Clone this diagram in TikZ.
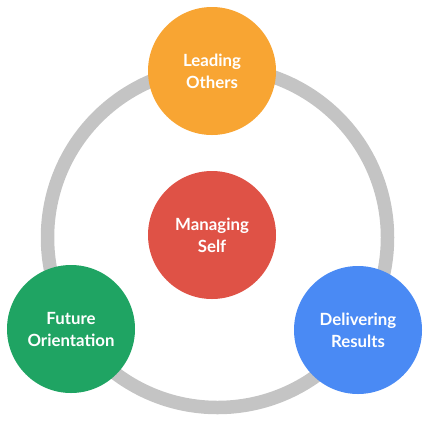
\documentclass[tikz,border=0pt]{standalone}
\usepackage{fontspec}
\setmainfont{Lato}
\definecolor{ringgray}{HTML}{C4C4C4}
\definecolor{leadorange}{HTML}{F8A533}
\definecolor{selfred}{HTML}{DF5246}
\definecolor{futuregreen}{HTML}{1FA463}
\definecolor{resultblue}{HTML}{4A8AF4}
\tikzset{
  area/.style={circle, minimum size=128pt, inner sep=0pt, text=white,
    font=\fontsize{16.8}{22}\selectfont\bfseries, align=center}
}
\begin{document}
\begin{tikzpicture}[x=1pt,y=-1pt]
 \useasboundingbox (0,0) rectangle (433,424);
 \draw[ringgray, line width=13.5pt] (217.5,237.5) circle[radius=170];
 \node[area, fill=leadorange] (lead) at (212,71) {Leading\\Others};
 \node[area, fill=selfred] (self) at (212,235) {Managing\\Self};
 \node[area, fill=futuregreen] (future) at (71,329) {Future\\Orientation};
 \node[area, fill=resultblue] (results) at (358,330) {Delivering\\Results};
\end{tikzpicture}
\end{document}
